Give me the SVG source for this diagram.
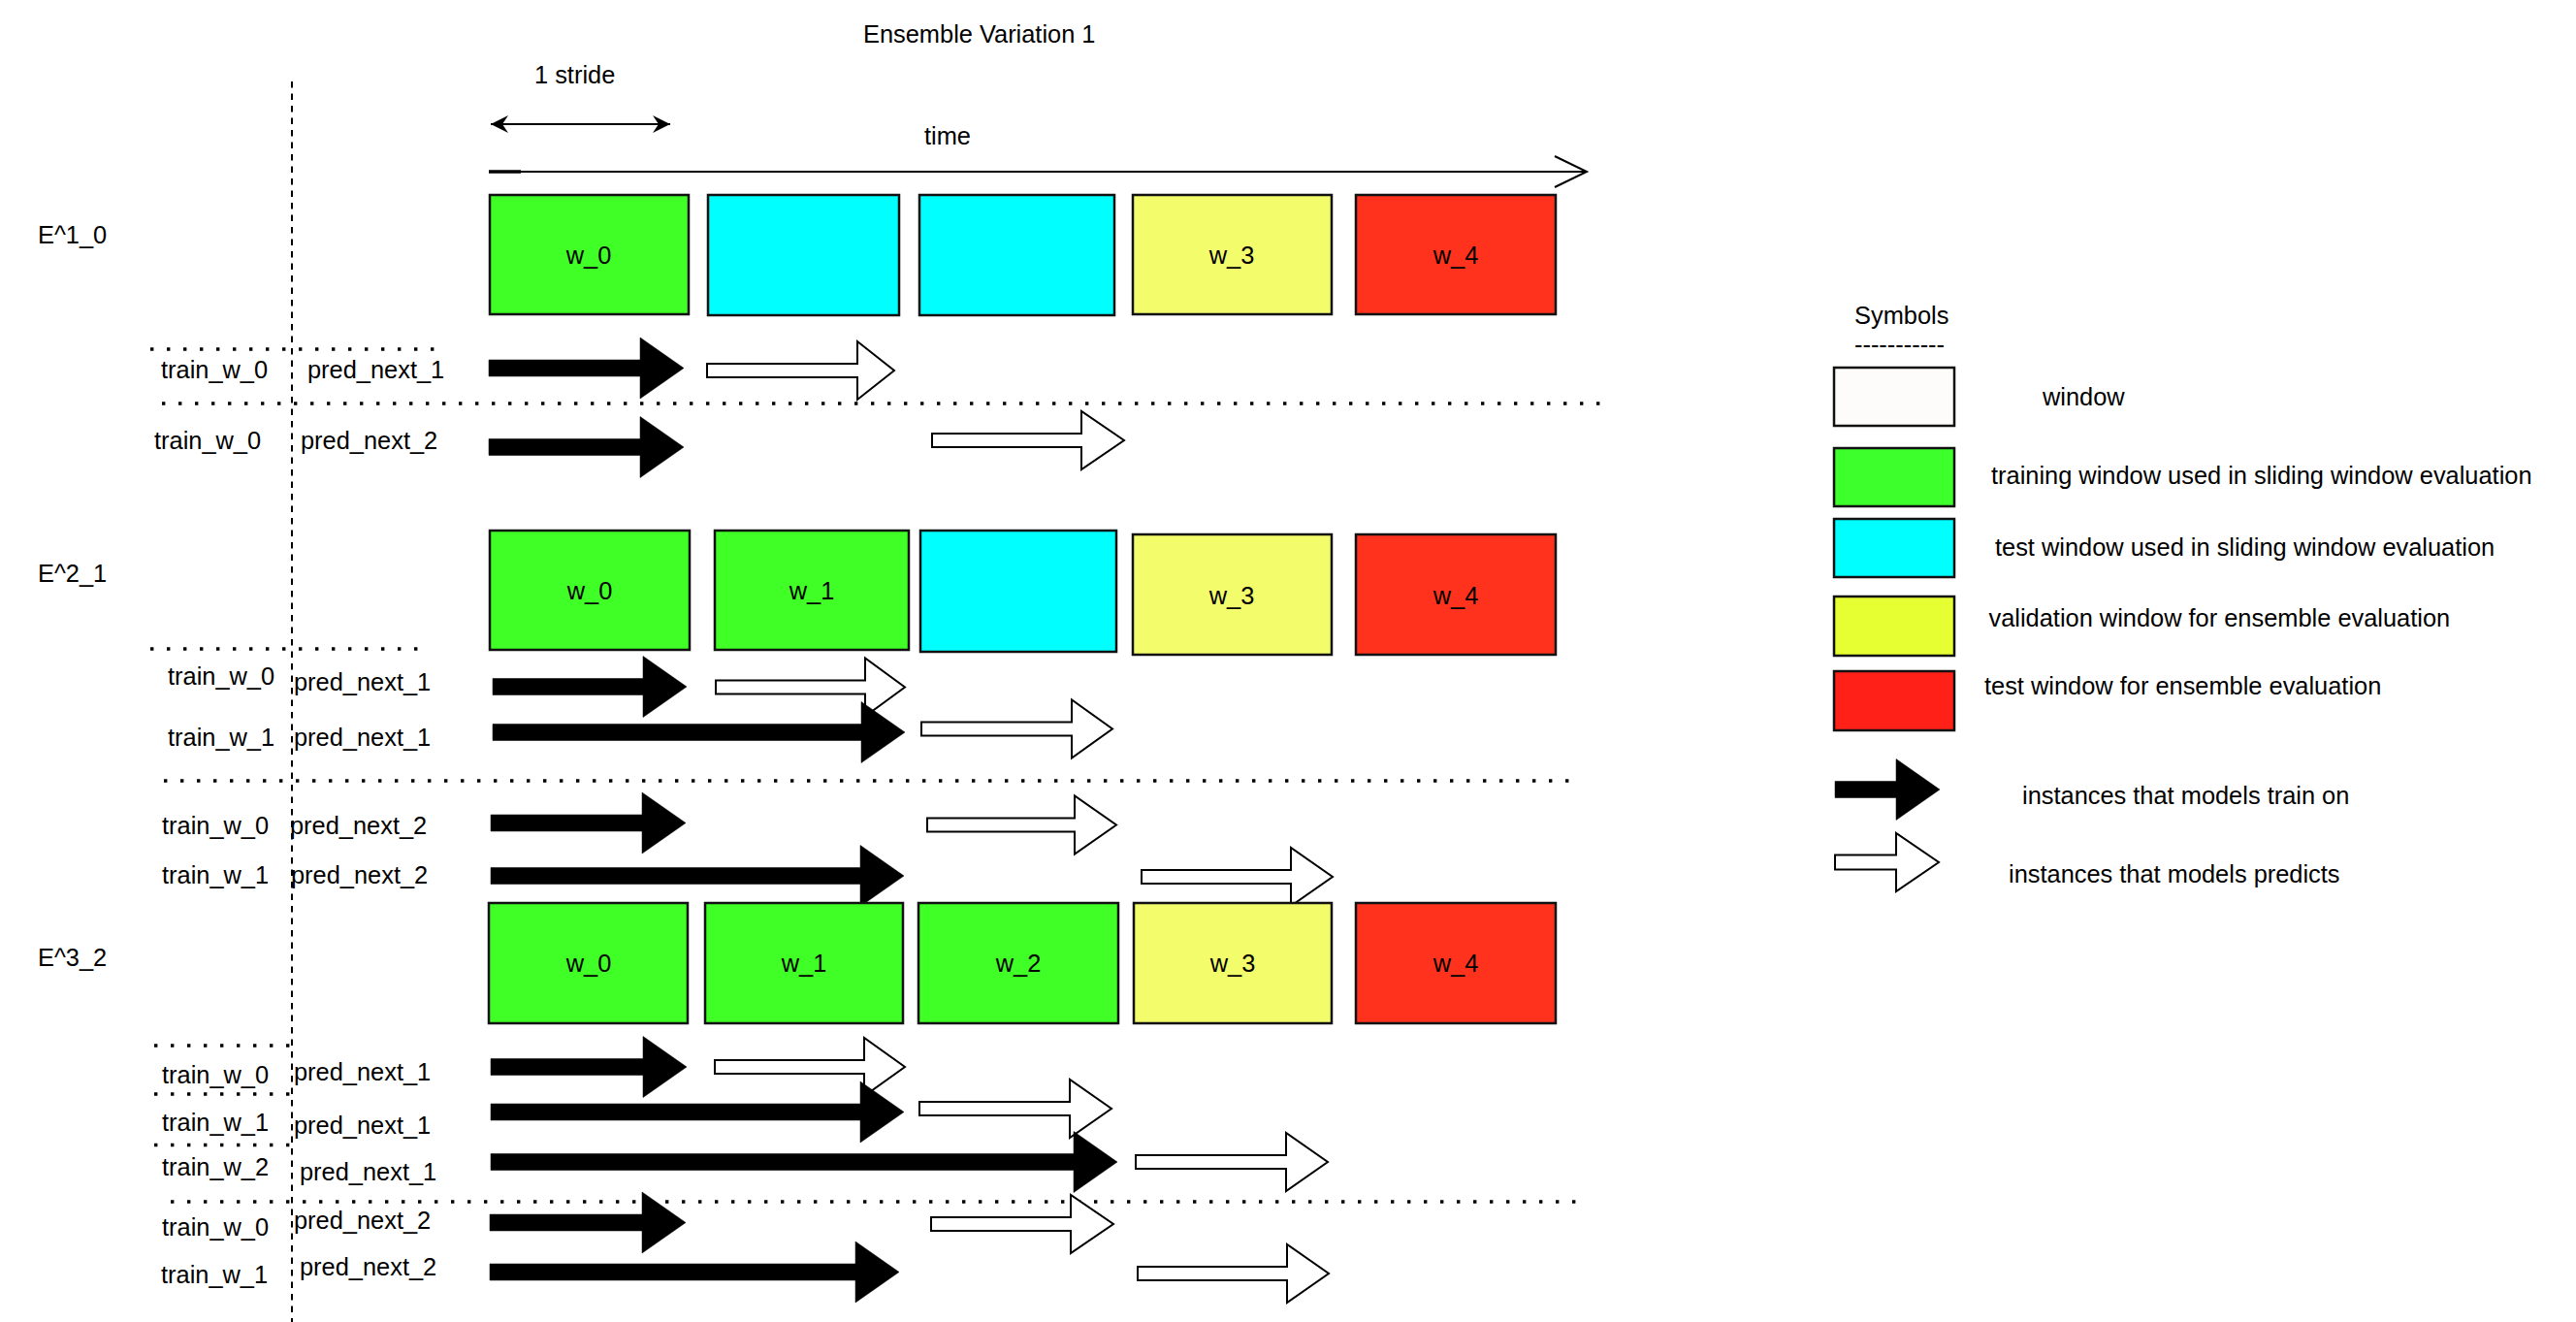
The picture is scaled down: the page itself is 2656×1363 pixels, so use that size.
<svg xmlns="http://www.w3.org/2000/svg" width="2656" height="1363" viewBox="0 0 2656 1363">
<style>
text{font-family:"Liberation Sans",Arial,Helvetica,sans-serif;font-size:25.4px;fill:#000}
.c{text-anchor:middle}
.box{stroke:#111;stroke-width:2.5}
.g{fill:#3FFF26}.cy{fill:#00FFFF}.y{fill:#F3FC6B}.r{fill:#FF331D}
.blk{fill:#000;stroke:#000;stroke-width:0.5}
.wht{fill:#fff;stroke:#000;stroke-width:2;stroke-linejoin:miter}
.dot{stroke:#000;stroke-width:3.4;stroke-dasharray:3.4 13.6;fill:none}
.dash{stroke:#000;stroke-width:2;stroke-dasharray:6.5 6;fill:none}
.ln{stroke:#000;stroke-width:2;fill:none}
</style>
<defs>
<marker id="cls" viewBox="0 0 20 20" refX="19" refY="10" markerWidth="20" markerHeight="20" markerUnits="userSpaceOnUse" orient="auto-start-reverse">
<path d="M1,1 L19,10 L1,19 L7,10 Z" fill="#000"/>
</marker>
</defs>
<rect width="2656" height="1363" fill="#fff"/>

<g id="header">
<text x="890" y="44">Ensemble Variation 1</text>
<text x="551" y="86">1 stride</text>
<text x="953" y="149">time</text>
</g>

<g id="connectors">
<line class="ln" x1="506" y1="128" x2="691" y2="128" marker-start="url(#cls)" marker-end="url(#cls)"/>
<line class="ln" x1="504" y1="177" x2="1634" y2="177"/>
<line x1="504" y1="177" x2="537" y2="177" stroke="#000" stroke-width="3.5"/>
<polyline class="ln" points="1603,161 1636,177 1603,193"/>
</g>

<g id="separators">
<line class="dash" x1="301" y1="84" x2="301" y2="1363"/>
<line class="dot" x1="155" y1="360" x2="452" y2="360"/>
<line class="dot" x1="167" y1="416" x2="1652" y2="416"/>
<line class="dot" x1="155" y1="669" x2="435" y2="669"/>
<line class="dot" x1="169" y1="805" x2="1622" y2="805"/>
<line class="dot" x1="159" y1="1078" x2="302" y2="1078"/>
<line class="dot" x1="159" y1="1128" x2="302" y2="1128"/>
<line class="dot" x1="159" y1="1180.5" x2="302" y2="1180.5"/>
<line class="dot" x1="176" y1="1239" x2="1628" y2="1239"/>
</g>

<g id="E1">
<text x="39" y="251">E^1_0</text>
<g id="E1-windows">
<rect class="box g" x="505" y="201" width="205" height="123"/>
<text class="c" x="607" y="272">w_0</text>
<rect class="box cy" x="730" y="201" width="197" height="124"/>
<rect class="box cy" x="948" y="201" width="201" height="124"/>
<rect class="box y" x="1168" y="201" width="205" height="123"/>
<text class="c" x="1270" y="272">w_3</text>
<rect class="box r" x="1398" y="201" width="206" height="123"/>
<text class="c" x="1501" y="272">w_4</text>
</g>
<g id="E1-row1">
<text x="166" y="390">train_w_0</text>
<text x="317" y="390">pred_next_1</text>
<polygon class="blk" points="504,371 660,371 660,348 705,379.5 660,411 660,388 504,388"/>
<polygon class="wht" points="729,375 884,375 884,352 922,382 884,412 884,389 729,389"/>
</g>
<g id="E1-row2">
<text x="159" y="463">train_w_0</text>
<text x="310" y="463">pred_next_2</text>
<polygon class="blk" points="504,452.5 660,452.5 660,429.5 705,461 660,492.5 660,469.5 504,469.5"/>
<polygon class="wht" points="961,447 1115,447 1115,424 1159,454 1115,484 1115,461 961,461"/>
</g>
</g>

<g id="E2">
<text x="39" y="600">E^2_1</text>
<g id="E2-windows">
<rect class="box g" x="505" y="547" width="206" height="123"/>
<text class="c" x="608" y="618">w_0</text>
<rect class="box g" x="737" y="547" width="200" height="123"/>
<text class="c" x="837" y="618">w_1</text>
<rect class="box cy" x="949" y="547" width="202" height="125"/>
<rect class="box y" x="1168" y="551" width="205" height="124"/>
<text class="c" x="1270" y="623">w_3</text>
<rect class="box r" x="1398" y="551" width="206" height="124"/>
<text class="c" x="1501" y="623">w_4</text>
</g>
<g id="E2-row1">
<text x="173" y="706">train_w_0</text>
<text x="303" y="712">pred_next_1</text>
<polygon class="blk" points="508,699.5 663,699.5 663,676.5 708,708 663,739.5 663,716.5 508,716.5"/>
<polygon class="wht" points="738,701.5 892,701.5 892,678.5 933,708.5 892,738.5 892,715.5 738,715.5"/>
</g>
<g id="E2-row2">
<text x="173" y="769">train_w_1</text>
<text x="303" y="769">pred_next_1</text>
<polygon class="blk" points="508,746.5 888,746.5 888,723.5 933,755 888,786.5 888,763.5 508,763.5"/>
<polygon class="wht" points="950,744.5 1105,744.5 1105,721.5 1147,751.5 1105,781.5 1105,758.5 950,758.5"/>
</g>
<g id="E2-row3">
<text x="167" y="860">train_w_0</text>
<text x="299" y="860">pred_next_2</text>
<polygon class="blk" points="506,840 662,840 662,817 707,848.5 662,880 662,857 506,857"/>
<polygon class="wht" points="956,843.5 1108,843.5 1108,820.5 1151,850.5 1108,880.5 1108,857.5 956,857.5"/>
</g>
<g id="E2-row4">
<text x="167" y="911">train_w_1</text>
<text x="300" y="911">pred_next_2</text>
<polygon class="blk" points="506,894.5 887,894.5 887,871.5 932,903 887,934.5 887,911.5 506,911.5"/>
<polygon class="wht" points="1177,897 1331,897 1331,874 1374,904 1331,934 1331,911 1177,911"/>
</g>
</g>

<g id="E3">
<text x="39" y="996">E^3_2</text>
<g id="E3-windows">
<rect class="box g" x="504" y="931" width="205" height="124"/>
<text class="c" x="607" y="1002">w_0</text>
<rect class="box g" x="727" y="931" width="204" height="124"/>
<text class="c" x="829" y="1002">w_1</text>
<rect class="box g" x="947" y="931" width="206" height="124"/>
<text class="c" x="1050" y="1002">w_2</text>
<rect class="box y" x="1169" y="931" width="204" height="124"/>
<text class="c" x="1271" y="1002">w_3</text>
<rect class="box r" x="1398" y="931" width="206" height="124"/>
<text class="c" x="1501" y="1002">w_4</text>
</g>
<g id="E3-row1">
<text x="167" y="1117">train_w_0</text>
<text x="303" y="1114">pred_next_1</text>
<polygon class="blk" points="506,1091.5 663,1091.5 663,1068.5 708,1100 663,1131.5 663,1108.5 506,1108.5"/>
<polygon class="wht" points="737,1093 891,1093 891,1070 933,1100 891,1130 891,1107 737,1107"/>
</g>
<g id="E3-row2">
<text x="167" y="1165.5">train_w_1</text>
<text x="303" y="1169">pred_next_1</text>
<polygon class="blk" points="506,1138 887,1138 887,1115 932,1146.5 887,1178 887,1155 506,1155"/>
<polygon class="wht" points="948,1136 1103,1136 1103,1113 1146,1143 1103,1173 1103,1150 948,1150"/>
</g>
<g id="E3-row3">
<text x="167" y="1212">train_w_2</text>
<text x="309" y="1217">pred_next_1</text>
<polygon class="blk" points="506,1189.5 1107,1189.5 1107,1166.5 1152,1198 1107,1229.5 1107,1206.5 506,1206.5"/>
<polygon class="wht" points="1171,1191 1326,1191 1326,1168 1369,1198 1326,1228 1326,1205 1171,1205"/>
</g>
<g id="E3-row4">
<text x="167" y="1273.5">train_w_0</text>
<text x="303" y="1267">pred_next_2</text>
<polygon class="blk" points="505,1252 662,1252 662,1229 707,1260.5 662,1292 662,1269 505,1269"/>
<polygon class="wht" points="960,1255 1104,1255 1104,1232 1148,1262 1104,1292 1104,1269 960,1269"/>
</g>
<g id="E3-row5">
<text x="166" y="1323">train_w_1</text>
<text x="309" y="1315">pred_next_2</text>
<polygon class="blk" points="505,1303 882,1303 882,1280 927,1311.5 882,1343 882,1320 505,1320"/>
<polygon class="wht" points="1173,1306 1327,1306 1327,1283 1370,1313 1327,1343 1327,1320 1173,1320"/>
</g>
</g>

<g id="legend">
<text x="1912" y="334">Symbols</text>
<text x="1912" y="364">-----------</text>
<g id="legend-window">
<rect class="box" x="1891" y="379" width="124" height="60" fill="#FDFCFA"/>
<text x="2106" y="418">window</text>
</g>
<g id="legend-train">
<rect class="box" x="1891" y="462" width="124" height="60" fill="#3DFF2B"/>
<text x="2053" y="499">training window used in sliding window evaluation</text>
</g>
<g id="legend-test">
<rect class="box" x="1891" y="535" width="124" height="60" fill="#00FFFF"/>
<text x="2057" y="572.5">test window used in sliding window evaluation</text>
</g>
<g id="legend-valid">
<rect class="box" x="1891" y="615" width="124" height="61" fill="#E5FF32"/>
<text x="2050.5" y="646">validation window for ensemble evaluation</text>
</g>
<g id="legend-enstest">
<rect class="box" x="1891" y="692" width="124" height="61" fill="#FF2118"/>
<text x="2046" y="716">test window for ensemble evaluation</text>
</g>
<g id="legend-trainarrow">
<polygon class="blk" points="1892,805.5 1955,805.5 1955,782.5 2000,814 1955,845.5 1955,822.5 1892,822.5"/>
<text x="2085" y="829">instances that models train on</text>
</g>
<g id="legend-predarrow">
<polygon class="wht" points="1892,881.5 1955,881.5 1955,859 1999,889 1955,919 1955,896.5 1892,896.5"/>
<text x="2071" y="910">instances that models predicts</text>
</g>
</g>
</svg>
